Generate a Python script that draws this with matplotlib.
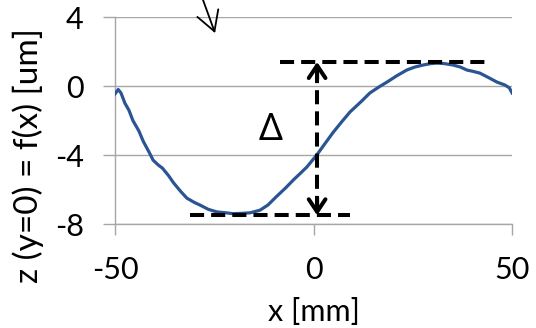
import matplotlib.pyplot as plt

# profile (x in mm, z in um)
x_mm = [-50, -49.2, -48.5, -47.5, -46.5, -45.5, -44, -42.9, -41.5, -40.4, -39, -38.1,
        -36.5, -35.3, -33.5, -31.9, -30, -28.6, -26.5, -24.3, -22, -20.3, -18, -16,
        -13.5, -11.5, -9.3, -7, -5.1, -3.5, -1.7, 0.8, 3, 4.9, 7, 9.2, 12, 14.2,
        16.5, 18.5, 21, 23.5, 25.5, 27.6, 29.5, 31.1, 33, 35.1, 37, 38.6, 40.2,
        41.9, 44, 46.2, 48.2, 49.3, 50]
z_um = [-0.45, -0.2, -0.4, -1.0, -1.4, -2.0, -2.6, -3.2, -3.8, -4.3, -4.6, -4.75,
        -5.2, -5.6, -6.1, -6.5, -6.75, -6.9, -7.15, -7.3, -7.35, -7.4, -7.38, -7.35,
        -7.2, -6.9, -6.4, -5.9, -5.45, -5.1, -4.7, -4.0, -3.3, -2.7, -2.1, -1.5,
        -0.9, -0.4, -0.05, 0.23, 0.6, 0.93, 1.1, 1.22, 1.3, 1.33, 1.3, 1.22, 1.1,
        0.93, 0.85, 0.75, 0.5, 0.23, 0.06, -0.1, -0.4]

x_ticks = [-50, 0, 50]
y_ticks = [-8, -4, 0, 4]

z_max = 1.4
z_min = -7.5
delta_x = 0.9
top_span = [-8.4, 44.5]
bottom_span = [-31.1, 9.2]

plt.rcParams['font.family'] = ['Lato', 'DejaVu Sans']
plt.rcParams['axes.unicode_minus'] = False

fig = plt.figure(figsize=(5.36, 3.28), dpi=100)
ax = fig.add_axes([0.2146, 0.317, 0.7407, 0.631])

grey = '#a6a6a6'
ax.plot(x_mm, z_um, color='#2b5592', lw=2.3, zorder=3)

# dashed guide lines for max / min
dash = (0, (3.5, 1.75))
ax.plot(top_span, [z_max, z_max], color='black', lw=2.9, linestyle=dash, zorder=4)
ax.plot(bottom_span, [z_min, z_min], color='black', lw=2.9, linestyle=dash, zorder=4)
ax.plot([delta_x, delta_x], [z_min + 0.3, z_max - 0.3], color='black', lw=2.9,
        linestyle=dash, zorder=4)
head = '->,head_length=0.45,head_width=0.3'
ax.annotate('', xy=(delta_x, z_max), xytext=(delta_x, z_max - 1.0),
            arrowprops=dict(arrowstyle=head, color='black', lw=2.9, mutation_scale=20,
                            shrinkA=0, shrinkB=0), zorder=5)
ax.annotate('', xy=(delta_x, z_min), xytext=(delta_x, z_min + 1.0),
            arrowprops=dict(arrowstyle=head, color='black', lw=2.9, mutation_scale=20,
                            shrinkA=0, shrinkB=0), zorder=5)
ax.text(-10.8, -2.55, 'Δ', fontsize=27, ha='center', va='center',
        family=['Noto Sans', 'DejaVu Sans'])

# small pointer arrow at the top
ax.annotate('', xy=(-24.8, 3.07), xytext=(-28.8, 5.6), annotation_clip=False,
            arrowprops=dict(arrowstyle='->,head_length=0.7,head_width=0.4',
                            color='black', lw=1.3, mutation_scale=20,
                            shrinkA=0, shrinkB=0, clip_on=False))

ax.set_xlim(-50, 50)
ax.set_ylim(-8, 4)
ax.set_xticks(x_ticks)
ax.set_yticks(y_ticks)
ax.yaxis.grid(True, color=grey, lw=1)
ax.set_axisbelow(True)
for s in ['top', 'right']:
    ax.spines[s].set_visible(False)
for s in ['left', 'bottom']:
    ax.spines[s].set_color(grey)
    ax.spines[s].set_linewidth(1)
ax.tick_params(axis='both', direction='out', color=grey, width=1, labelsize=22)
ax.tick_params(axis='y', length=8.6, pad=14)
ax.tick_params(axis='x', length=8, pad=15)

ax.set_xlabel('x [mm]', fontsize=22, labelpad=10)
fig.text(28 / 536, 1 - 156 / 328, 'z (y=0) = f(x) [um]', rotation=90, fontsize=24,
         ha='center', va='center')

fig.savefig('out.png', dpi=100)
